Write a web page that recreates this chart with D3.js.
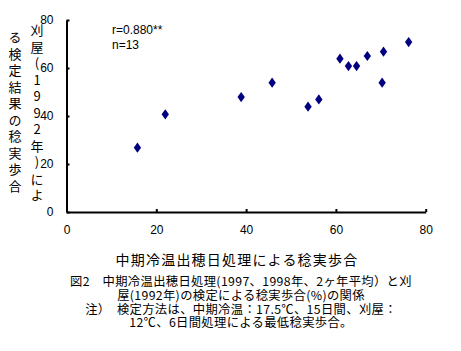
<!DOCTYPE html>
<html><head><meta charset="utf-8">
<script src="https://cdn.jsdelivr.net/npm/d3@7"></script>
<style>body{margin:0;background:#fff}svg{display:block}text{font-family:"Noto Sans CJK JP","Noto Sans",sans-serif}</style>
</head><body>
<script>
const xVals = [15.8, 22.0, 38.9, 45.8, 53.8, 56.2, 60.9, 62.8, 64.6, 67.0, 70.6, 70.3, 76.2];
const yVals = [26.8, 40.7, 47.9, 53.9, 43.9, 46.9, 63.9, 60.8, 60.8, 65.0, 66.8, 53.9, 70.8];
const xTicks = [0, 20, 40, 60, 80];
const yTicks = [0, 20, 40, 60, 80];
const xTitle = "中期冷温出穂日処理による稔実歩合";
const yTitleCols = ["刈屋(1992年)によ", "る検定結果の稔実歩合"];
const annot = ["r=0.880**", "n=13"];
const caption = [
  "図2　中期冷温出穂日処理(1997、1998年、2ヶ年平均）と刈",
  "屋(1992年)の検定による稔実歩合(%)の関係",
  "注）　検定方法は、中期冷温：17.5℃、15日間、刈屋：",
  "12℃、6日間処理による最低稔実歩合。"
];

const W = 461, H = 351;
const svg = d3.select("body").append("svg").attr("width", W).attr("height", H);
const x = d3.scaleLinear().domain([0, 80]).range([66.5, 425.7]);
const y = d3.scaleLinear().domain([0, 80]).range([212, 20]);

const gy = svg.append("g").attr("transform", `translate(${x(0)},0)`)
  .call(d3.axisLeft(y).tickValues(yTicks).tickSize(-3).tickPadding(13).tickSizeOuter(0));
const gx = svg.append("g").attr("transform", `translate(0,${y(0)})`)
  .call(d3.axisBottom(x).tickValues(xTicks).tickSize(-3).tickPadding(13).tickSizeOuter(0));
[gx, gy].forEach(g => {
  g.select(".domain").attr("stroke", "#000").attr("stroke-width", 2);
  g.selectAll(".tick line").attr("stroke", "#000").attr("stroke-width", 2);
  g.selectAll(".tick text").attr("font-size", 12).attr("fill", "#000")
    .style("font-family", "'Liberation Sans',Arial,sans-serif");
});
gx.selectAll(".tick").filter(d => d === 0).select("line").remove();

// points
const sym = d3.symbol().type(d3.symbolDiamond).size(30);
svg.append("g").selectAll("path").data(xVals.map((v, i) => [v, yVals[i]])).join("path")
  .attr("d", sym)
  .attr("transform", d => `translate(${x(d[0])},${y(d[1])}) scale(1.25,1)`)
  .attr("fill", "#000080");

// annotation
svg.append("g").selectAll("text").data(annot).join("text")
  .attr("x", 112).attr("y", (d, i) => 34 + i * 15)
  .attr("font-size", 12).style("font-family", "'Liberation Sans',Arial,sans-serif")
  .text(d => d);

// y title (vertical, two columns read right to left)
svg.append("g").selectAll("text").data(yTitleCols).join("text")
  .attr("x", (d, i) => [37, 15][i])
  .attr("y", (d, i) => [24, 31][i])
  .attr("font-size", 13)
  .style("writing-mode", "vertical-rl")
  .style("text-orientation", "upright")
  .attr("letter-spacing", 3.5)
  .text(d => d);

// x title
svg.append("text").attr("x", 237).attr("y", 265).attr("text-anchor", "middle")
  .attr("font-size", 14).attr("letter-spacing", 1.2).text(xTitle);

// caption (one multi-line text)
const cap = svg.append("text").attr("text-anchor", "middle").attr("font-size", 12.3)
  .attr("letter-spacing", 0.35);
cap.selectAll("tspan").data(caption).join("tspan")
  .attr("x", 241).attr("y", (d, i) => [286, 300, 314, 327][i])
  .text(d => d);
</script>
</body></html>
